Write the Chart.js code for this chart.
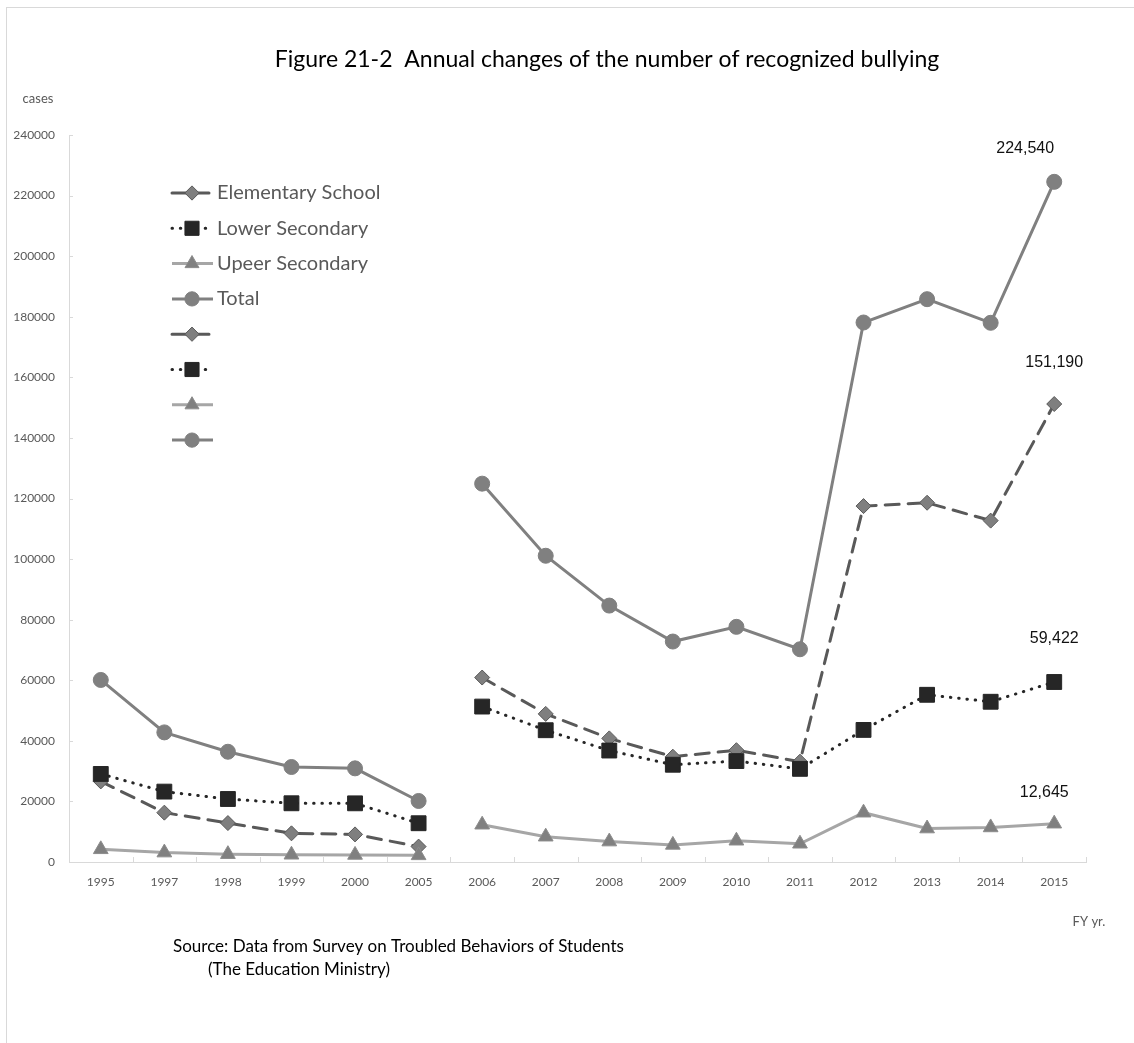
<!DOCTYPE html>
<html>
<head>
<meta charset="utf-8">
<title>Figure 21-2 Annual changes of the number of recognized bullying</title>
<script src="https://cdn.jsdelivr.net/npm/chart.js@4"></script>
<style>
    html, body { margin: 0; padding: 0; background: #fff; }
    #wrap { position: relative; width: 1134px; height: 1043px; }
</style>
</head>
<body>
<div id="wrap"><canvas id="bullyChart" width="1134" height="1043"></canvas></div>
<script>
// ---- data ----
var years = ['1995', '1997', '1998', '1999', '2000', '2005', '2006', '2007',
    '2008', '2009', '2010', '2011', '2012', '2013', '2014', '2015'];
var elementary = [26614, 16294, 12858, 9462, 9114, 5087, 60897, 48896,
    40807, 34766, 36909, 33124, 117500, 118600, 112700, 151190];
var lowerSecondary = [29069, 23234, 20801, 19383, 19371, 12794, 51310, 43505,
    36795, 32111, 33323, 30749, 43600, 55200, 52900, 59422];
var upperSecondary = [4184, 3103, 2576, 2391, 2327, 2191, 12307, 8355,
    6737, 5642, 7018, 6020, 16274, 11039, 11404, 12645];
var total = [60096, 42790, 36396, 31359, 30918, 20143, 124898, 101097,
    84648, 72778, 77630, 70231, 178100, 185803, 178000, 224540];
var seriesNames = ['Elementary School', 'Lower Secondary', 'Upeer Secondary', 'Total'];
var yTicks = [0, 20000, 40000, 60000, 80000, 100000, 120000, 140000,
    160000, 180000, 200000, 220000, 240000];
var breakAt = 6; // survey method changed in 2006: lines are not joined

// keep only the part of a series that belongs to one survey period
function part(arr, from, to) {
    return arr.map(function (v, i) { return (i >= from && i < to) ? v : null; });
}

var styles = [
    { line: '#595959', fill: '#7f7f7f', edge: '#595959', shape: 'rectRot', r: 7.5, dash: [14, 9], cap: 'round' },
    { line: '#262626', fill: '#262626', edge: '#262626', shape: 'rect', r: 10.5, dash: [0.5, 7.8], cap: 'round' },
    { line: '#a6a6a6', fill: '#808080', edge: '#8c8c8c', shape: 'triangle', r: 8.5, dash: [], cap: 'butt' },
    { line: '#808080', fill: '#808080', edge: '#808080', shape: 'circle', r: 7.5, dash: [], cap: 'butt' }
];
var allSeries = [elementary, lowerSecondary, upperSecondary, total];

var datasets = [];
[[0, breakAt], [breakAt, years.length]].forEach(function (range, g) {
    allSeries.forEach(function (s, k) {
        var st = styles[k];
        datasets.push({
            label: g === 0 ? seriesNames[k] : '',
            data: part(s, range[0], range[1]),
            borderColor: st.line,
            borderWidth: 3,
            borderDash: st.dash,
            borderCapStyle: st.cap,
            pointStyle: st.shape,
            pointRadius: st.r,
            pointBackgroundColor: st.fill,
            pointBorderColor: st.edge,
            pointBorderWidth: 1,
            spanGaps: false,
            tension: 0,
            order: 20 - datasets.length
        });
    });
});

// values printed above the 2015 points
var labelSeries = [7, 4, 5, 6];
var labelText = ['224,540', '151,190', '59,422', '12,645'];
var labelShift = [[-29, -33], [0, -41], [0, -43], [-10, -31]];

var decorPlugin = {
    id: 'decor',
    beforeDraw: function (chart) {
        var ctx = chart.ctx;
        ctx.save();
        ctx.fillStyle = '#fff';
        ctx.fillRect(0, 0, chart.width, chart.height);
        ctx.strokeStyle = '#d9d9d9';
        ctx.lineWidth = 1;
        ctx.strokeRect(6.5, 7.5, chart.width + 20, chart.height + 20);
        ctx.restore();
    },
    beforeDatasetsDraw: function (chart) {
        var ctx = chart.ctx, x = chart.scales.x, y = chart.scales.y;
        ctx.save();
        ctx.strokeStyle = '#d9d9d9';
        ctx.lineWidth = 1;
        ctx.beginPath();
        var step = (x.right - x.left) / years.length;
        for (var i = 0; i <= years.length; i++) {
            var px = Math.round(x.left + i * step) + 0.5;
            ctx.moveTo(px, y.bottom);
            ctx.lineTo(px, y.bottom - 5);
        }
        yTicks.forEach(function (t) {
            var py = Math.round(y.getPixelForValue(t)) + 0.5;
            ctx.moveTo(x.left, py);
            ctx.lineTo(x.left + 4, py);
        });
        ctx.stroke();
        ctx.restore();
    },
    afterDraw: function (chart) {
        var ctx = chart.ctx;
        ctx.save();
        ctx.textBaseline = 'middle';

        ctx.textAlign = 'center';
        ctx.fillStyle = '#000';
        ctx.font = '23px Lato';
        ctx.fillText('Figure 21-2  Annual changes of the number of recognized bullying', 607, 60);

        ctx.fillStyle = '#595959';
        ctx.font = '13px Lato';
        ctx.fillText('cases', 38, 99);
        ctx.fillText('FY yr.', 1089, 922);

        ctx.textAlign = 'left';
        ctx.fillStyle = '#000';
        ctx.font = '17px Lato';
        ctx.fillText('Source: Data from Survey on Troubled Behaviors of Students', 173, 947);
        ctx.fillText('(The Education Ministry)', 208, 970);

        // data labels
        ctx.textAlign = 'center';
        ctx.fillStyle = '#111';
        ctx.font = '16px "Liberation Sans"';
        labelSeries.forEach(function (di, n) {
            var meta = chart.getDatasetMeta(di);
            var pt = meta.data[years.length - 1];
            ctx.fillText(labelText[n], pt.x + labelShift[n][0], pt.y + labelShift[n][1]);
        });

        // legend, laid out inside the plot as in the original
        var lx0 = 172, lx1 = 213, mx = 192, top = 193, gap = 35.3;
        chart.data.datasets.forEach(function (ds, i) {
            var ly = top + i * gap;
            ctx.save();
            ctx.strokeStyle = ds.borderColor;
            ctx.lineWidth = ds.borderWidth;
            ctx.lineCap = ds.borderCapStyle;
            ctx.setLineDash(ds.borderDash);
            ctx.beginPath();
            ctx.moveTo(lx0, ly);
            ctx.lineTo(lx1, ly);
            ctx.stroke();
            ctx.restore();
            ctx.save();
            ctx.fillStyle = ds.pointBackgroundColor;
            ctx.strokeStyle = ds.pointBorderColor;
            ctx.lineWidth = 1;
            Chart.helpers.drawPoint(ctx, { pointStyle: ds.pointStyle, radius: ds.pointRadius * 0.95, rotation: 0, borderWidth: 1 }, mx, ly);
            ctx.restore();
            if (ds.label) {
                ctx.textAlign = 'left';
                ctx.fillStyle = '#595959';
                ctx.font = '20px Lato';
                ctx.fillText(ds.label, 217, ly);
            }
        });
        ctx.restore();
    }
};

var ctx = document.getElementById('bullyChart').getContext('2d');
new Chart(ctx, {
    type: 'line',
    data: { labels: years, datasets: datasets },
    options: {
        responsive: false,
        animation: false,
        layout: { padding: { left: 0, top: 135, right: 48, bottom: 141 } },
        plugins: {
            legend: { display: false },
            title: { display: false },
            tooltip: { enabled: false }
        },
        scales: {
            x: {
                type: 'category',
                offset: true,
                grid: { display: false, drawTicks: false },
                border: { display: true, color: '#d9d9d9', width: 1 },
                ticks: {
                    color: '#595959',
                    font: { family: 'Lato', size: 12 },
                    padding: 13,
                    maxRotation: 0,
                    autoSkip: false
                },
                afterFit: function (scale) { scale.height = 40; }
            },
            y: {
                min: 0,
                max: 240000,
                grid: { display: false, drawTicks: false },
                border: { display: true, color: '#d9d9d9', width: 1 },
                afterBuildTicks: function (scale) {
                    scale.ticks = yTicks.map(function (v) { return { value: v }; });
                },
                ticks: {
                    color: '#595959',
                    font: { family: 'Lato', size: 12 },
                    padding: 14,
                    callback: function (v) { return String(v); }
                },
                afterFit: function (scale) { scale.width = 69; }
            }
        }
    },
    plugins: [decorPlugin]
});
</script>
</body>
</html>
